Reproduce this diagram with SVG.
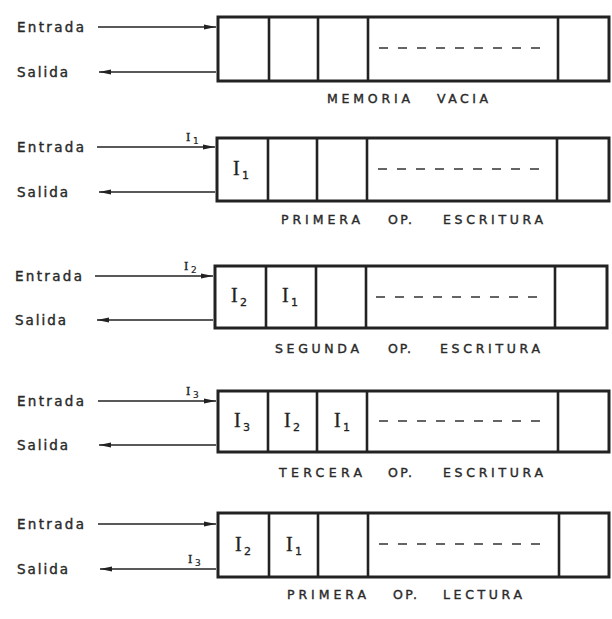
<svg xmlns="http://www.w3.org/2000/svg" width="612" height="619" viewBox="0 0 612 619">
<defs>
<marker id="ah" viewBox="0 0 12 6" refX="12" refY="3" markerWidth="12" markerHeight="6" markerUnits="userSpaceOnUse" orient="auto">
<path d="M0,0.6 L12,3 L0,5.4 Z" fill="#222"/>
</marker>
<style>
.box{fill:none;stroke:#222;stroke-width:3}
.div{stroke:#222;stroke-width:2.6}
.dash{stroke:#333;stroke-width:1.5;stroke-dasharray:9 10}
.arr{stroke:#222;stroke-width:1.4;fill:none;marker-end:url(#ah)}
.lbl{font-family:"DejaVu Sans","Liberation Sans",sans-serif;font-size:13.5px;fill:#2a2a2a;stroke:#2a2a2a;stroke-width:0.4}
.cap{font-family:"DejaVu Sans","Liberation Sans",sans-serif;font-size:12.5px;fill:#2a2a2a;stroke:#2a2a2a;stroke-width:0.4}
.ci{font-family:"Liberation Serif","DejaVu Serif",serif;font-size:20px;fill:#222;stroke:#222;stroke-width:0.3}
.cs{font-family:"DejaVu Sans","Liberation Sans",sans-serif;font-size:11px;fill:#222;stroke:#222;stroke-width:0.3}
.ai{font-family:"Liberation Serif","DejaVu Serif",serif;font-size:13px;fill:#222;stroke:#222;stroke-width:0.3}
.as{font-family:"DejaVu Sans","Liberation Sans",sans-serif;font-size:9px;fill:#222;stroke:#222;stroke-width:0.2}
</style>
</defs>
<rect width="612" height="619" fill="#fff"/>

<!-- Row 1 -->
<g id="mem1">
<rect class="box" x="218" y="17" width="391" height="64"/>
<line class="div" x1="269" y1="17" x2="269" y2="81"/>
<line class="div" x1="318" y1="17" x2="318" y2="81"/>
<line class="div" x1="368" y1="17" x2="368" y2="81"/>
<line class="div" x1="558" y1="17" x2="558" y2="81"/>
<line class="dash" x1="379" y1="48" x2="548" y2="48"/>
<text class="cap" x="327" y="103" textLength="83" lengthAdjust="spacing">MEMORIA</text>
<text class="cap" x="437" y="103" textLength="51" lengthAdjust="spacing">VACIA</text>
</g>
<g id="io1">
<text class="lbl" x="17" y="32" textLength="67" lengthAdjust="spacing">Entrada</text>
<text class="lbl" x="17" y="77" textLength="51" lengthAdjust="spacing">Salida</text>
</g>

<!-- Row 2 -->
<g id="mem2">
<rect class="box" x="217" y="138" width="392" height="63"/>
<line class="div" x1="268" y1="138" x2="268" y2="201"/>
<line class="div" x1="317" y1="138" x2="317" y2="201"/>
<line class="div" x1="367" y1="138" x2="367" y2="201"/>
<line class="div" x1="557" y1="138" x2="557" y2="201"/>
<line class="dash" x1="378" y1="169" x2="547" y2="169"/>
<text class="ci" x="233" y="175">I</text><text class="cs" x="242" y="179">1</text>
<text class="cap" x="281" y="224" textLength="79" lengthAdjust="spacing">PRIMERA</text>
<text class="cap" x="388" y="224" textLength="24" lengthAdjust="spacing">OP.</text>
<text class="cap" x="443" y="224" textLength="100" lengthAdjust="spacing">ESCRITURA</text>
</g>
<g id="io2">
<text class="lbl" x="17" y="152" textLength="67" lengthAdjust="spacing">Entrada</text>
<text class="lbl" x="17" y="197" textLength="51" lengthAdjust="spacing">Salida</text>
<text class="ai" x="186" y="141">I</text><text class="as" x="193" y="144">1</text>
</g>

<!-- Row 3 -->
<g id="mem3">
<rect class="box" x="215" y="266" width="392" height="62"/>
<line class="div" x1="266" y1="266" x2="266" y2="328"/>
<line class="div" x1="316" y1="266" x2="316" y2="328"/>
<line class="div" x1="366" y1="266" x2="366" y2="328"/>
<line class="div" x1="555" y1="266" x2="555" y2="328"/>
<line class="dash" x1="376" y1="297" x2="545" y2="297"/>
<text class="ci" x="231" y="302">I</text><text class="cs" x="240" y="306">2</text>
<text class="ci" x="282" y="302">I</text><text class="cs" x="291" y="306">1</text>
<text class="cap" x="275" y="353" textLength="84" lengthAdjust="spacing">SEGUNDA</text>
<text class="cap" x="388" y="353" textLength="23" lengthAdjust="spacing">OP.</text>
<text class="cap" x="440" y="353" textLength="100" lengthAdjust="spacing">ESCRITURA</text>
</g>
<g id="io3">
<text class="lbl" x="15" y="281" textLength="67" lengthAdjust="spacing">Entrada</text>
<text class="lbl" x="15" y="325" textLength="51" lengthAdjust="spacing">Salida</text>
<text class="ai" x="184" y="270">I</text><text class="as" x="191" y="273">2</text>
</g>

<!-- Row 4 -->
<g id="mem4">
<rect class="box" x="218" y="391" width="391" height="61"/>
<line class="div" x1="268" y1="391" x2="268" y2="452"/>
<line class="div" x1="317" y1="391" x2="317" y2="452"/>
<line class="div" x1="367" y1="391" x2="367" y2="452"/>
<line class="div" x1="558" y1="391" x2="558" y2="452"/>
<line class="dash" x1="379" y1="421" x2="548" y2="421"/>
<text class="ci" x="234" y="427">I</text><text class="cs" x="243" y="431">3</text>
<text class="ci" x="284" y="427">I</text><text class="cs" x="293" y="431">2</text>
<text class="ci" x="334" y="427">I</text><text class="cs" x="343" y="431">1</text>
<text class="cap" x="279" y="477" textLength="83" lengthAdjust="spacing">TERCERA</text>
<text class="cap" x="388" y="477" textLength="24" lengthAdjust="spacing">OP.</text>
<text class="cap" x="443" y="477" textLength="100" lengthAdjust="spacing">ESCRITURA</text>
</g>
<g id="io4">
<text class="lbl" x="17" y="406" textLength="67" lengthAdjust="spacing">Entrada</text>
<text class="lbl" x="17" y="450" textLength="51" lengthAdjust="spacing">Salida</text>
<text class="ai" x="186" y="395">I</text><text class="as" x="193" y="398">3</text>
</g>

<!-- Row 5 -->
<g id="mem5">
<rect class="box" x="218" y="513" width="391" height="64"/>
<line class="div" x1="269" y1="513" x2="269" y2="577"/>
<line class="div" x1="318" y1="513" x2="318" y2="577"/>
<line class="div" x1="368" y1="513" x2="368" y2="577"/>
<line class="div" x1="559" y1="513" x2="559" y2="577"/>
<line class="dash" x1="379" y1="544" x2="548" y2="544"/>
<text class="ci" x="235" y="551">I</text><text class="cs" x="244" y="555">2</text>
<text class="ci" x="286" y="551">I</text><text class="cs" x="295" y="555">1</text>
<text class="cap" x="287" y="599" textLength="79" lengthAdjust="spacing">PRIMERA</text>
<text class="cap" x="393" y="599" textLength="24" lengthAdjust="spacing">OP.</text>
<text class="cap" x="443" y="599" textLength="79" lengthAdjust="spacing">LECTURA</text>
</g>
<g id="io5">
<text class="lbl" x="17" y="529" textLength="67" lengthAdjust="spacing">Entrada</text>
<text class="lbl" x="17" y="574" textLength="51" lengthAdjust="spacing">Salida</text>
<text class="ai" x="188" y="563">I</text><text class="as" x="195" y="566">3</text>
</g>

<!-- Connectors -->
<g id="connectors">
<line class="arr" x1="98" y1="27" x2="216" y2="27"/>
<line class="arr" x1="216" y1="72" x2="99" y2="72"/>
<line class="arr" x1="97" y1="147" x2="215" y2="147"/>
<line class="arr" x1="215" y1="192" x2="99" y2="192"/>
<line class="arr" x1="95" y1="276" x2="213" y2="276"/>
<line class="arr" x1="213" y1="320" x2="97" y2="320"/>
<line class="arr" x1="98" y1="401" x2="216" y2="401"/>
<line class="arr" x1="216" y1="445" x2="99" y2="445"/>
<line class="arr" x1="98" y1="524" x2="216" y2="524"/>
<line class="arr" x1="216" y1="569" x2="100" y2="569"/>
</g>
</svg>
